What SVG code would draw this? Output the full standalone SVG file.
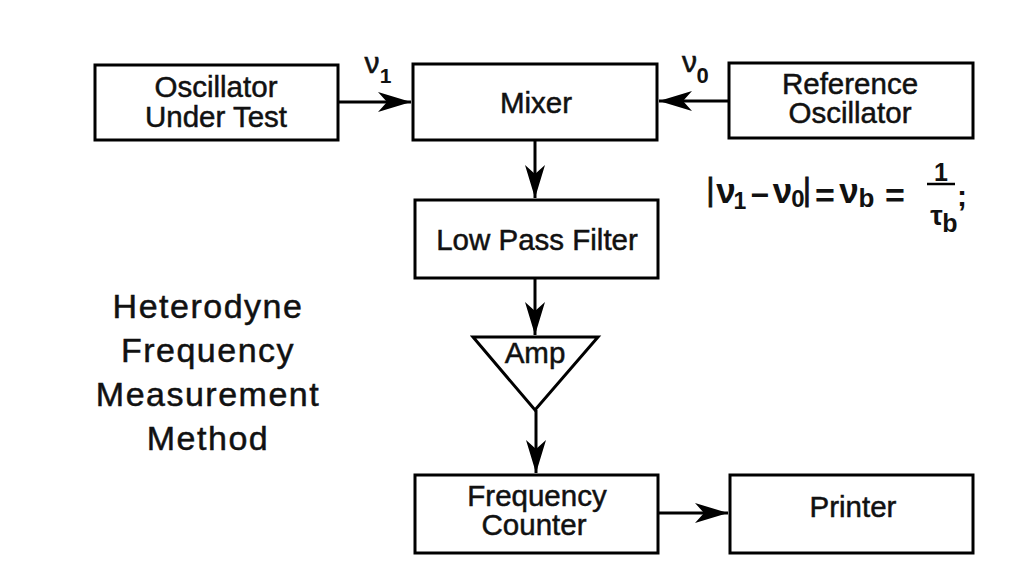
<svg xmlns="http://www.w3.org/2000/svg" width="1019" height="574" viewBox="0 0 1019 574">
<style>
.box{fill:#fff;stroke:#000;stroke-width:3}
.t{font-family:"Liberation Sans",Arial,sans-serif;font-size:29.5px;fill:#111;stroke:#111;stroke-width:0.5;text-anchor:middle}
.big{font-family:"Liberation Sans",Arial,sans-serif;font-size:34px;letter-spacing:1.5px;fill:#111;stroke:#111;stroke-width:0.5;text-anchor:middle}
.m{font-family:"Liberation Sans",Arial,sans-serif;fill:#111;text-anchor:middle;font-weight:bold}
.c{fill:none;stroke:#000;stroke-width:3}
</style>
<defs>
<marker id="ah" markerUnits="userSpaceOnUse" viewBox="0 -11 34 22" refX="33" refY="0" markerWidth="34" markerHeight="22" orient="auto">
<path d="M0,-10 L33,0 L0,10 L9,0 Z" fill="#000"/>
</marker>
</defs>
<rect width="1019" height="574" fill="#fff"/>
<g id="connectors">
<path class="c" d="M338,102 H411" marker-end="url(#ah)"/>
<path class="c" d="M729,101 H659" marker-end="url(#ah)"/>
<path class="c" d="M535,140 V198" marker-end="url(#ah)"/>
<path class="c" d="M535,278 V335" marker-end="url(#ah)"/>
<path class="c" d="M536,410 V473" marker-end="url(#ah)"/>
<path class="c" d="M658,513 H728" marker-end="url(#ah)"/>
</g>
<g id="label-nu1">
<text class="m" font-size="30"><tspan x="372" y="73" font-weight="normal" stroke="#111" stroke-width="0.6">ν</tspan><tspan x="385.5" y="83" font-size="21">1</tspan></text>
</g>
<g id="label-nu0">
<text class="m" font-size="30"><tspan x="689.5" y="72" font-weight="normal" stroke="#111" stroke-width="0.6">ν</tspan><tspan x="702.5" y="83" font-size="22">0</tspan></text>
</g>
<g id="oscillator-under-test">
<rect class="box" x="95" y="65" width="243" height="75"/>
<text class="t"><tspan x="216" y="97">Oscillator</tspan><tspan x="216" y="127">Under Test</tspan></text>
</g>
<g id="mixer">
<rect class="box" x="413" y="64" width="244" height="76"/>
<text class="t" x="536" y="113">Mixer</text>
</g>
<g id="reference-oscillator">
<rect class="box" x="729" y="63" width="244" height="75"/>
<text class="t"><tspan x="850" y="94">Reference</tspan><tspan x="850" y="123">Oscillator</tspan></text>
</g>
<g id="low-pass-filter">
<rect class="box" x="415" y="200" width="243" height="78"/>
<text class="t" x="537" y="250">Low Pass Filter</text>
</g>
<g id="amp">
<polygon class="box" points="473,337 598,337 535,410"/>
<text class="t" x="535" y="363" font-size="28">Amp</text>
</g>
<g id="frequency-counter">
<rect class="box" x="415" y="475" width="243" height="78"/>
<text class="t"><tspan x="537" y="506">Frequency</tspan><tspan x="534" y="535">Counter</tspan></text>
</g>
<g id="printer">
<rect class="box" x="730" y="475" width="243" height="78"/>
<text class="t" x="853" y="517">Printer</text>
</g>
<g id="formula">
<text class="m" font-size="35"><tspan x="710.5" y="200" font-size="32" font-weight="normal" stroke="#111" stroke-width="0.8">|</tspan><tspan x="726" y="203">ν</tspan><tspan x="740" y="209" font-size="23">1</tspan><tspan x="760" y="206" font-size="32">−</tspan><tspan x="782.5" y="203">ν</tspan><tspan x="798" y="207" font-size="24">0</tspan><tspan x="807" y="200" font-size="32" font-weight="normal" stroke="#111" stroke-width="0.8">|</tspan><tspan x="825" y="207" font-size="34">=</tspan><tspan x="849" y="203">ν</tspan><tspan x="866.5" y="207" font-size="26">b</tspan><tspan x="895" y="207" font-size="34">=</tspan><tspan x="962" y="206" font-size="30">;</tspan></text>
<line x1="927" y1="184" x2="955" y2="184" stroke="#000" stroke-width="2.5"/>
<text class="m" font-size="25"><tspan x="941" y="181">1</tspan><tspan x="936.5" y="225" font-size="28">τ</tspan><tspan x="950" y="232">b</tspan></text>
</g>
<g id="title">
<text class="big"><tspan x="208" y="318">Heterodyne</tspan><tspan x="208" y="362">Frequency</tspan><tspan x="208" y="406">Measurement</tspan><tspan x="208" y="450">Method</tspan></text>
</g>
</svg>
